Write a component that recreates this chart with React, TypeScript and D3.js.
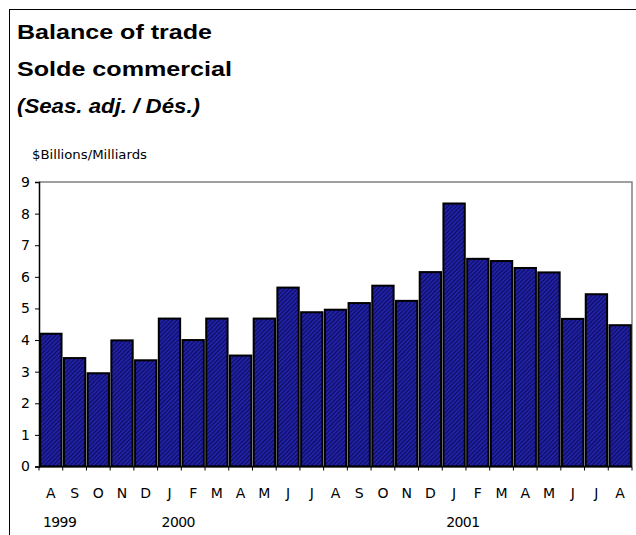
import React, { useRef, useEffect } from 'react';
import * as d3 from 'd3';

const months = ['A', 'S', 'O', 'N', 'D', 'J', 'F', 'M', 'A', 'M', 'J', 'J', 'A', 'S', 'O', 'N', 'D', 'J', 'F', 'M', 'A', 'M', 'J', 'J', 'A'];
const values = [4.2, 3.43, 2.95, 3.99, 3.36, 4.68, 4.0, 4.68, 3.51, 4.68, 5.66, 4.88, 4.96, 5.17, 5.72, 5.24, 6.15, 8.32, 6.57, 6.5, 6.28, 6.14, 4.67, 5.45, 4.47];
const years = [{ label: '1999', index: 0 }, { label: '2000', index: 5 }, { label: '2001', index: 17 }];
const yTicks = [0, 1, 2, 3, 4, 5, 6, 7, 8, 9];

export default function App() {
  const ref = useRef<SVGSVGElement>(null);

  useEffect(() => {
    const svg = d3.select(ref.current);
    svg.selectAll('*').remove();

    const width = 636;
    const height = 535;
    const margin = { top: 182, right: 4, bottom: 68.5, left: 39 };

    const data = values.map((v, i) => ({ i, month: months[i], value: v }));

    const x = d3
      .scaleBand<number>()
      .domain(data.map(d => d.i))
      .range([margin.left, width - margin.right])
      .paddingInner(0.1)
      .paddingOuter(0.05);

    const y = d3
      .scaleLinear()
      .domain([0, 9])
      .range([height - margin.bottom, margin.top]);

    svg.attr('width', width).attr('height', height);

    // hatch pattern
    const defs = svg.append('defs');
    const pat = defs
      .append('pattern')
      .attr('id', 'hatch')
      .attr('patternUnits', 'userSpaceOnUse')
      .attr('width', 3)
      .attr('height', 3)
      .attr('patternTransform', 'rotate(45)');
    pat.append('rect').attr('width', 3).attr('height', 3).attr('fill', '#2222aa');
    pat.append('rect').attr('width', 1.1).attr('height', 3).attr('fill', '#0c0c5a');

    // outer frame
    svg.append('line').attr('x1', 9.5).attr('x2', 9.5).attr('y1', 9).attr('y2', height).attr('stroke', '#000');
    svg.append('line').attr('x1', 9).attr('x2', width).attr('y1', 9.5).attr('y2', 9.5).attr('stroke', '#000');

    // titles
    const title = svg.append('g').attr('font-family', 'Liberation Sans, Arial, sans-serif').attr('font-weight', 'bold').attr('fill', '#000');
    title.append('text').attr('x', 17).attr('y', 39).attr('font-size', 20)
      .attr('textLength', 195).attr('lengthAdjust', 'spacingAndGlyphs').text('Balance of trade');
    title.append('text').attr('x', 17).attr('y', 76).attr('font-size', 20)
      .attr('textLength', 215).attr('lengthAdjust', 'spacingAndGlyphs').text('Solde commercial');
    title.append('text').attr('x', 17).attr('y', 113).attr('font-size', 20).attr('font-style', 'italic')
      .attr('textLength', 183).attr('lengthAdjust', 'spacingAndGlyphs').text('(Seas. adj. / Dés.)');

    const lightFont = 'DejaVu Sans, sans-serif';

    svg
      .append('text')
      .attr('x', 32)
      .attr('y', 159)
      .attr('font-family', lightFont)
      .attr('font-size', 12)
      .attr('textLength', 115)
      .attr('lengthAdjust', 'spacingAndGlyphs')
      .text('$Billions/Milliards');

    // plot frame (top/right grey)
    const x0 = margin.left;
    const x1 = width - margin.right;
    svg.append('path')
      .attr('d', `M${x0},${margin.top}H${x1}V${height - margin.bottom}`)
      .attr('fill', 'none')
      .attr('stroke', '#808080')
      .attr('stroke-width', 1.5);

    // bars
    svg
      .selectAll('.bar')
      .data(data)
      .join('rect')
      .attr('class', 'bar')
      .attr('x', d => x(d.i)!)
      .attr('y', d => y(d.value))
      .attr('width', x.bandwidth())
      .attr('height', d => y(0) - y(d.value))
      .attr('fill', 'url(#hatch)')
      .attr('stroke', '#000')
      .attr('stroke-width', 2);

    // y axis
    const yAxis = svg
      .append('g')
      .attr('transform', `translate(${margin.left},0)`)
      .call(d3.axisLeft(y).tickValues(yTicks).tickSize(4).tickPadding(5).tickFormat(d3.format('d')));
    yAxis.select('.domain').attr('stroke', '#000').attr('stroke-width', 1.5);
    yAxis.selectAll('.tick line').attr('stroke', '#000');
    yAxis.selectAll('.tick text').attr('font-family', lightFont).attr('font-size', 14).attr('fill', '#000');

    // x axis: baseline + ticks at band boundaries
    const step = x.step();
    const boundaries = d3.range(months.length + 1).map(i => margin.left + i * step);
    const xg = svg.append('g');
    xg.append('line')
      .attr('x1', x0).attr('x2', x1)
      .attr('y1', y(0)).attr('y2', y(0))
      .attr('stroke', '#000').attr('stroke-width', 1.5);
    xg.selectAll('.xt')
      .data(boundaries)
      .join('line')
      .attr('class', 'xt')
      .attr('x1', d => d).attr('x2', d => d)
      .attr('y1', y(0)).attr('y2', y(0) + 4)
      .attr('stroke', '#000');

    xg.selectAll('.mlab')
      .data(data)
      .join('text')
      .attr('class', 'mlab')
      .attr('x', d => x(d.i)! + x.bandwidth() / 2)
      .attr('y', y(0) + 31)
      .attr('text-anchor', 'middle')
      .attr('font-family', lightFont)
      .attr('font-size', 14)
      .text(d => d.month);

    xg.selectAll('.ylab')
      .data(years)
      .join('text')
      .attr('class', 'ylab')
      .attr('x', d => margin.left + d.index * step + 4)
      .attr('y', y(0) + 60)
      .attr('font-family', lightFont)
      .attr('font-size', 14)
      .attr('letter-spacing', -0.6)
      .text(d => d.label);
  }, []);

  return <svg ref={ref} style={{ position: 'absolute', left: 0, top: 0, display: 'block' }} />;
}
